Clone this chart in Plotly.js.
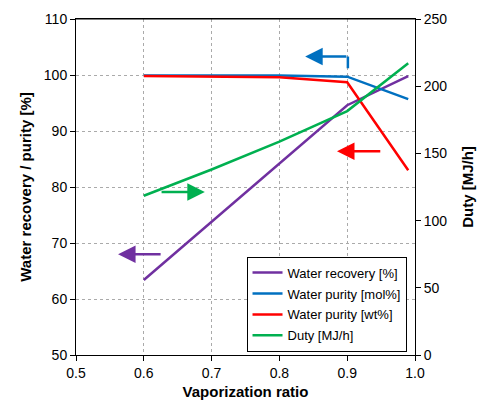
<!DOCTYPE html>
<html><head><meta charset="utf-8">
<script src="https://cdn.plot.ly/plotly-3.0.1.min.js"></script>
<style>html,body{margin:0;padding:0;background:#fff}#chart{width:481px;height:401px}</style>
</head><body><div id="chart"></div>
<script>
const vapRatio = [0.6, 0.7, 0.8, 0.9, 0.99];
const waterRecovery = [63.4, 73.8, 84.3, 94.6, 99.8];
const purityMol = [99.9, 99.9, 99.9, 99.7, 95.7];
const purityWt = [99.8, 99.7, 99.6, 98.7, 83.0];
const duty = [118.5, 138, 158.7, 181.5, 217];
const xTicks = [0.5, 0.6, 0.7, 0.8, 0.9, 1.0];
const xTickText = ['0.5', '0.6', '0.7', '0.8', '0.9', '1.0'];

const F = 'Liberation Sans, Arial, sans-serif';
const traces = [
  {x: vapRatio, y: waterRecovery, name: 'Water recovery [%]', legendgroup: 'a', mode: 'lines', line: {color: '#7030A0', width: 2.5}},
  {x: vapRatio, y: purityMol, name: 'Water purity [mol%]', legendgroup: 'b', mode: 'lines', line: {color: '#0070C0', width: 2.5}},
  {x: vapRatio, y: purityWt, name: 'Water purity [wt%]', legendgroup: 'c', mode: 'lines', line: {color: '#FF0000', width: 2.5}},
  {x: vapRatio, y: duty, name: 'Duty [MJ/h]', legendgroup: 'd', mode: 'lines', yaxis: 'y2', line: {color: '#00B050', width: 2.5}}
];
function arrow(x, y, ax, ay, color) {
  return {x: x, y: y, ax: ax, ay: ay, xref: 'x', yref: 'y', axref: 'x', ayref: 'y', text: '',
    showarrow: true, arrowhead: 2, arrowsize: 1.4, arrowwidth: 2.5, arrowcolor: color};
}
const layout = {
  width: 481, height: 401,
  margin: {l: 76, r: 66, t: 19, b: 46},
  paper_bgcolor: '#fff', plot_bgcolor: '#fff',
  font: {family: F, size: 14, color: '#000'},
  showlegend: true,
  legend: {x: 0.503, y: 0.01, xanchor: 'left', yanchor: 'bottom', bgcolor: '#fff', bordercolor: '#000', borderwidth: 1,
    font: {family: F, size: 13}, tracegroupgap: 1, itemwidth: 30},
  xaxis: {range: [0.5, 1.0], tickvals: xTicks, ticktext: xTickText, ticks: 'outside', ticklen: 5, tickcolor: '#000',
    showline: true, linecolor: '#000', linewidth: 1, mirror: true, showgrid: true, gridcolor: '#aaa', griddash: 'dot', gridwidth: 1,
    zeroline: false, title: {text: '<b>Vaporization ratio</b>', font: {family: F, size: 15}, standoff: 6}},
  yaxis: {range: [50, 110], dtick: 10, ticks: 'outside', ticklen: 5, tickcolor: '#000',
    showline: true, linecolor: '#000', linewidth: 1, showgrid: true, gridcolor: '#aaa', griddash: 'dot', gridwidth: 1,
    zeroline: false, title: {text: '<b>Water recovery / purity [%]</b>', font: {family: F, size: 15}, standoff: 8}},
  yaxis2: {range: [0, 250], dtick: 50, overlaying: 'y', side: 'right', ticks: 'outside', ticklen: 5, tickcolor: '#000',
    showline: true, linecolor: '#000', linewidth: 1, showgrid: false, zeroline: false,
    title: {text: '<b>Duty [MJ/h]</b>', font: {family: F, size: 15}, standoff: 16}},
  shapes: [
    {type: 'line', xref: 'x', yref: 'y', x0: 0.901, x1: 0.901, y0: 101.2, y1: 103.3, line: {color: '#0070C0', width: 2.5}},
    {type: 'line', xref: 'paper', yref: 'paper', x0: 0, x1: 1, y0: 1, y1: 1, line: {color: '#000', width: 1}}
  ],
  annotations: [
    arrow(0.562, 68.0, 0.627, 68.0, '#7030A0'),
    arrow(0.690, 79.1, 0.624, 79.1, '#00B050'),
    arrow(0.885, 86.4, 0.951, 86.4, '#FF0000'),
    arrow(0.838, 103.3, 0.901, 103.3, '#0070C0')
  ]
};
Plotly.newPlot('chart', traces, layout, {displayModeBar: false, staticPlot: true});
</script></body></html>
